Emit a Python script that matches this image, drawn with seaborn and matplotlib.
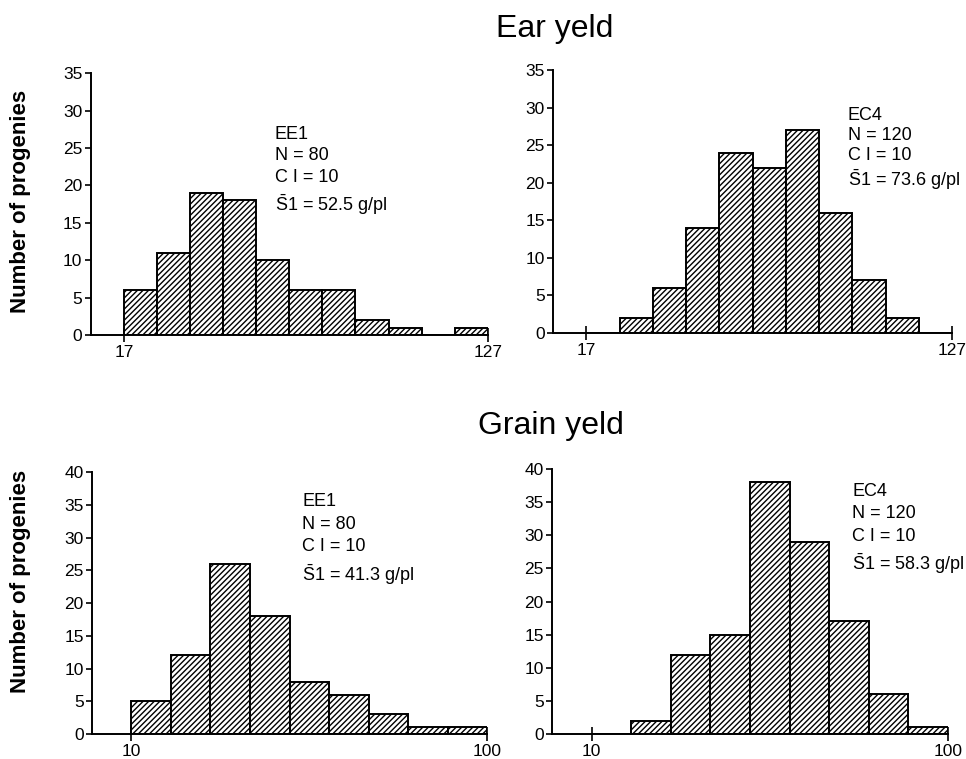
import seaborn as sns
import matplotlib.pyplot as plt
import numpy as np

# class limits and counts of progenies per class
ear_bins = [17, 27, 37, 47, 57, 67, 77, 87, 97, 107, 117, 127]
ear_ee1 = [6, 11, 19, 18, 10, 6, 6, 2, 1, 0, 1]
ear_ec4 = [0, 2, 6, 14, 24, 22, 27, 16, 7, 2, 0]

grain_bins = [10, 20, 30, 40, 50, 60, 70, 80, 90, 100]
grain_ee1 = [5, 12, 26, 18, 8, 6, 3, 1, 1]
grain_ec4 = [0, 2, 12, 15, 38, 29, 17, 6, 1]

ear_xticks = [17, 127]
grain_xticks = [10, 100]

labels = [
    "EE1\nN = 80\nC I = 10\n$\\bar{\\mathrm{S}}$1 = 52.5 g/pl",
    "EC4\nN = 120\nC I = 10\n$\\bar{\\mathrm{S}}$1 = 73.6 g/pl",
    "EE1\nN = 80\nC I = 10\n$\\bar{\\mathrm{S}}$1 = 41.3 g/pl",
    "EC4\nN = 120\nC I = 10\n$\\bar{\\mathrm{S}}$1 = 58.3 g/pl",
]

sns.set_style('ticks')
plt.rcParams['font.family'] = ['Liberation Sans', 'DejaVu Sans']
plt.rcParams['mathtext.fontset'] = 'custom'
plt.rcParams['mathtext.rm'] = 'Liberation Sans'
plt.rcParams['hatch.linewidth'] = 1.0
for k in ['text.color', 'axes.labelcolor', 'xtick.color', 'ytick.color', 'axes.edgecolor']:
    plt.rcParams[k] = 'black'

fig = plt.figure(figsize=(9.66, 7.59), dpi=100)

panels = [
    # rect, bins, counts, ymax, xticks, xlim, text pos, linespacing
    ([0.094, 0.5586, 0.411, 0.345], ear_bins, ear_ee1, 35, ear_xticks, (7, 127), (0.463, 0.80), 1.35),
    ([0.5725, 0.5613, 0.413, 0.3465], ear_bins, ear_ec4, 35, ear_xticks, (7, 127), (0.739, 0.86), 1.22),
    ([0.0952, 0.0329, 0.409, 0.345], grain_bins, grain_ee1, 40, grain_xticks, (0, 100), (0.532, 0.92), 1.42),
    ([0.5714, 0.0329, 0.410, 0.349], grain_bins, grain_ec4, 40, grain_xticks, (0, 100), (0.758, 0.947), 1.4),
]

for (rect, bins, counts, ymax, xt, xl, tpos, ls), lab in zip(panels, labels):
    ax = fig.add_axes(rect)
    centers = (np.array(bins[:-1]) + np.array(bins[1:])) / 2
    sns.histplot(x=centers, weights=counts, bins=bins, ax=ax,
                 color='white', edgecolor='black', linewidth=1.4,
                 hatch='//////', alpha=1)
    ax.set_xlim(*xl)
    ax.set_ylim(0, ymax)
    ax.set_yticks(range(0, ymax + 1, 5))
    ax.set_xticks(xt)
    ax.set_xlabel('')
    ax.set_ylabel('')
    ax.tick_params(axis='y', length=4, width=1.2, labelsize=12.5, pad=2)
    ax.tick_params(axis='x', direction='inout', length=10, width=1.2,
                   labelsize=12.5, pad=2)
    for s in ['top', 'right']:
        ax.spines[s].set_visible(False)
    for s in ['left', 'bottom']:
        ax.spines[s].set_linewidth(1.4)
    ax.text(tpos[0], tpos[1], lab, transform=ax.transAxes, va='top',
            ha='left', fontsize=13, linespacing=ls)

fig.text(0.5745, 0.951, 'Ear yeld', ha='center', va='baseline', fontsize=23)
fig.text(0.570, 0.428, 'Grain yeld', ha='center', va='baseline', fontsize=23)
fig.text(0.021, 0.734, 'Number of progenies', rotation=90, ha='center',
         va='center', fontsize=16, fontweight='bold')
fig.text(0.021, 0.2345, 'Number of progenies', rotation=90, ha='center',
         va='center', fontsize=16, fontweight='bold')

fig.savefig('out.png', dpi=100)
